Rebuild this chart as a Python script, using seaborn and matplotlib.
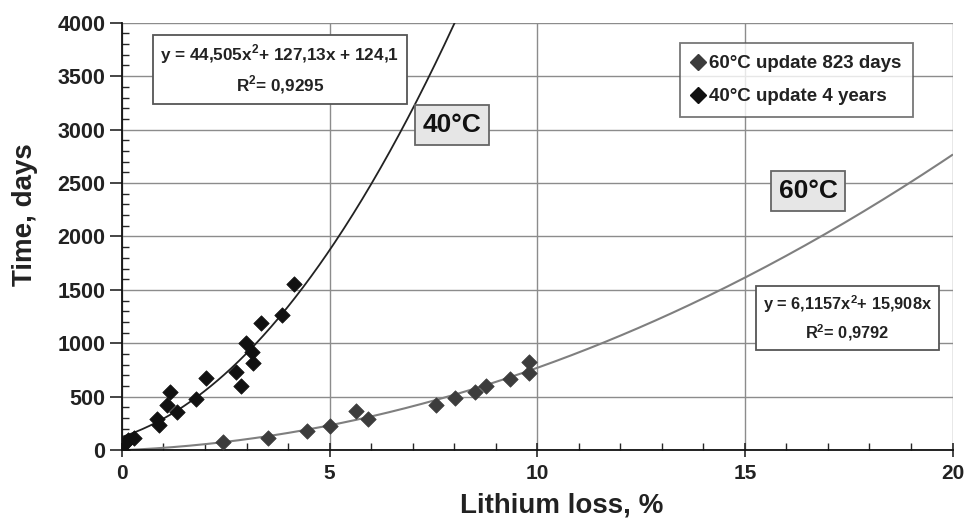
import numpy as np
import pandas as pd
import matplotlib
matplotlib.use("Agg")
import matplotlib.pyplot as plt
import seaborn as sns
from matplotlib.lines import Line2D
from matplotlib.ticker import MultipleLocator

# ── data ─────────────────────────────────────────────────────────────────────
loss_40 = [0.0, 0.07, 0.15, 0.3, 0.84, 0.9, 1.08, 1.16, 1.32, 1.78, 2.02,
           2.75, 2.86, 2.99, 3.13, 3.16, 3.35, 3.85, 4.14]
days_40 = [0, 65, 95, 112, 288, 234, 422, 546, 359, 475, 672,
           733, 600, 1000, 921, 812, 1187, 1265, 1555]

loss_60 = [2.44, 3.51, 4.45, 5.01, 5.63, 5.93, 7.57, 8.02, 8.49, 8.77,
           9.35, 9.79, 9.81]
days_60 = [78, 115, 178, 228, 368, 288, 422, 484, 546, 600,
           662, 718, 822]

# trendline coefficients as printed on the chart (x², x, const)
coef_40 = [44.505, 127.13, 124.1]
coef_60 = [6.1157, 15.908, 0.0]

eq_40 = "y = 44,505x$^{\\mathbf{2}}$+ 127,13x + 124,1\nR$^{\\mathbf{2}}$= 0,9295"
eq_60 = "y = 6,1157x$^{\\mathbf{2}}$+ 15,908x\nR$^{\\mathbf{2}}$= 0,9792"
legend_labels = ["60°C update 823 days", "40°C update 4 years"]

C40 = "#111111"
C60 = "#3c3c3c"

sns.set_theme(style="white")
plt.rcParams["font.family"] = ["Liberation Sans", "DejaVu Sans"]
plt.rcParams["mathtext.fontset"] = "custom"
plt.rcParams["mathtext.rm"] = "Liberation Sans:bold"
plt.rcParams["mathtext.bf"] = "Liberation Sans:bold"

fig = plt.figure(figsize=(9.68, 5.29), dpi=100)
ax = fig.add_axes([0.126, 0.149, 0.858, 0.808])

# trend curves
x40 = np.linspace(0, 8.2, 300)
x60 = np.linspace(0, 20, 300)
sns.lineplot(x=x40, y=np.polyval(coef_40, x40), ax=ax, color="#222222", lw=1.3, zorder=2)
sns.lineplot(x=x60, y=np.polyval(coef_60, x60), ax=ax, color="#7f7f7f", lw=1.5, zorder=2)

# measured points
sns.scatterplot(x=loss_60, y=days_60, ax=ax, marker="D", s=62, color=C60,
                edgecolor=C60, linewidth=0.5, zorder=3)
sns.scatterplot(x=loss_40, y=days_40, ax=ax, marker="D", s=62, color=C40,
                edgecolor=C40, linewidth=0.5, zorder=4)

ax.set_xlim(0, 20)
ax.set_ylim(0, 4000)
ax.xaxis.set_major_locator(MultipleLocator(5))
ax.xaxis.set_minor_locator(MultipleLocator(1))
ax.yaxis.set_major_locator(MultipleLocator(500))
ax.yaxis.set_minor_locator(MultipleLocator(100))
ax.grid(True, which="major", color="#8c8c8c", lw=1.0)
ax.set_axisbelow(True)

for side in ["top", "right"]:
    ax.spines[side].set_visible(False)
for side in ["left", "bottom"]:
    ax.spines[side].set_color("#111111")
    ax.spines[side].set_linewidth(1.3)

ax.tick_params(axis="x", which="major", direction="inout", length=10, width=1.2,
               labelsize=15, pad=5, bottom=True)
ax.tick_params(axis="x", which="minor", direction="in", length=5, width=1, bottom=True)
ax.tick_params(axis="y", which="major", direction="out", length=9, width=1.2,
               labelsize=15.5, pad=3, left=True)
ax.tick_params(axis="y", which="minor", direction="in", length=5, width=1, left=True)
for lbl in ax.get_xticklabels() + ax.get_yticklabels():
    lbl.set_fontweight("bold")
    lbl.set_color("#222222")

ax.set_xlabel("Lithium loss, %", fontsize=20, fontweight="bold", color="#222222")
ax.set_ylabel("Time, days", fontsize=20, fontweight="bold", color="#222222")
ax.xaxis.set_label_coords(0.53, -0.129)
ax.xaxis.label.set_va("center")
ax.yaxis.set_label_coords(-0.117, 0.55)
ax.yaxis.label.set_va("center")

# equation boxes
box = dict(boxstyle="square,pad=0.45", fc="white", ec="#555555", lw=1.3)
ax.text(0.190, 0.891, eq_40, transform=ax.transAxes, ha="center", va="center",
        fontsize=12.3, fontweight="bold", color="#222222", linespacing=1.4, bbox=box)
ax.text(0.8735, 0.309, eq_60, transform=ax.transAxes, ha="center", va="center",
        fontsize=11.8, fontweight="bold", color="#222222", linespacing=1.4, bbox=box)

# curve labels
tag = dict(boxstyle="square,pad=0.3", fc="#e6e6e6", ec="#666666", lw=1.3)
ax.text(0.3976, 0.761, "40°C", transform=ax.transAxes, ha="center", va="center",
        fontsize=19, fontweight="bold", color="#111111", bbox=tag)
ax.text(0.826, 0.6066, "60°C", transform=ax.transAxes, ha="center", va="center",
        fontsize=19, fontweight="bold", color="#111111", bbox=tag)

handles = [
    Line2D([], [], ls="none", marker="D", ms=8, color=C60),
    Line2D([], [], ls="none", marker="D", ms=8, color=C40),
]
leg = ax.legend(handles, legend_labels, loc="upper right", bbox_to_anchor=(0.953, 0.953),
                borderaxespad=0, frameon=True, fancybox=False, edgecolor="#555555",
                handlelength=0.6, handletextpad=0.3, borderpad=0.65, labelspacing=0.85,
                prop={"weight": "bold", "size": 13.5})
leg.get_frame().set_linewidth(1.3)
for t in leg.get_texts():
    t.set_color("#222222")

fig.savefig("out.png", dpi=100)
